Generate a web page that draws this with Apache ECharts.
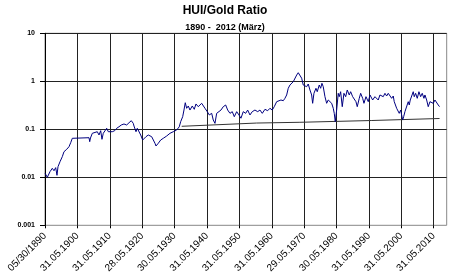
<!DOCTYPE html>
<html><head><meta charset="utf-8">
<script src="https://cdn.jsdelivr.net/npm/echarts@6/dist/echarts.min.js"></script>
<style>html,body{margin:0;padding:0;background:#fff}#c{width:450px;height:278px}</style>
</head><body><div id="c"></div>
<script>
const startYear = 1890.41;
const xTickLabels = ["05/30/1890","31.05.1900","31.05.1910","28.05.1920","30.05.1930","31.05.1940","31.05.1950","31.05.1960","29.05.1970","30.05.1980","31.05.1990","31.05.2000","31.05.2010"];
const yTickLabels = ["0.001","0.01","0.1","1","10"];
const ratioYears = [1890.45,1891.12,1891.95,1892.66,1893.19,1893.71,1894.11,1894.42,1895.04,1895.75,1896.27,1897.11,1897.82,1898.34,1898.84,1899.14,1904.00,1904.21,1904.45,1905.01,1905.53,1906.55,1907.08,1907.60,1908.00,1908.40,1908.93,1909.45,1909.95,1910.47,1911.18,1911.92,1912.54,1913.25,1913.96,1914.79,1915.63,1916.34,1917.05,1917.66,1917.88,1918.50,1918.90,1919.51,1919.95,1920.56,1920.97,1921.58,1922.29,1922.82,1923.34,1923.84,1924.36,1924.67,1925.38,1926.12,1926.92,1927.97,1928.99,1930.01,1931.06,1931.86,1932.29,1932.91,1933.31,1933.71,1934.14,1934.64,1935.16,1935.87,1936.49,1937.01,1937.72,1938.25,1938.77,1939.27,1939.79,1940.50,1941.12,1941.86,1942.35,1942.88,1943.40,1943.90,1944.73,1945.44,1946.18,1946.80,1947.51,1948.22,1948.84,1949.58,1950.29,1950.90,1951.61,1952.35,1952.97,1953.68,1954.39,1955.22,1956.06,1956.77,1957.48,1958.31,1959.14,1959.85,1960.56,1961.18,1961.92,1962.42,1963.25,1963.96,1964.48,1965.01,1965.50,1966.03,1966.55,1967.05,1967.57,1968.10,1968.59,1969.12,1969.64,1970.13,1970.66,1971.18,1971.67,1972.20,1972.72,1973.03,1973.43,1974.05,1974.45,1975.07,1975.50,1975.90,1976.30,1976.83,1977.35,1977.85,1978.37,1978.90,1979.39,1979.70,1980.01,1980.44,1980.93,1981.24,1981.67,1982.17,1982.69,1983.22,1983.71,1984.33,1984.76,1985.38,1985.87,1986.40,1986.80,1987.42,1987.85,1988.47,1988.87,1989.49,1990.20,1990.72,1991.55,1992.26,1993.28,1993.80,1994.33,1994.82,1995.35,1995.87,1996.37,1996.89,1997.42,1997.91,1998.22,1998.65,1998.96,1999.45,1999.76,2000.19,2000.50,2000.81,2001.12,2001.52,2002.05,2002.54,2002.85,2003.16,2003.59,2004.08,2004.39,2004.82,2005.32,2005.84,2006.37,2006.86,2007.38,2007.69,2008.22,2008.71,2009.24,2009.76,2010.26,2010.78,2011.30,2011.80,2012.20];
const ratioValues = [0.0121,0.0100,0.0131,0.0154,0.0137,0.0159,0.0110,0.0166,0.0211,0.0269,0.0341,0.0383,0.0434,0.0526,0.0649,0.0668,0.0668,0.0552,0.0659,0.0825,0.0866,0.0891,0.0761,0.0935,0.0619,0.0825,0.0891,0.105,0.0891,0.0967,0.0891,0.0935,0.105,0.113,0.123,0.129,0.123,0.137,0.151,0.133,0.117,0.0891,0.105,0.0967,0.0761,0.0598,0.0552,0.0701,0.0761,0.0825,0.0701,0.0649,0.0511,0.0449,0.0511,0.0598,0.0649,0.0725,0.0825,0.0891,0.0967,0.113,0.144,0.183,0.252,0.358,0.274,0.306,0.252,0.306,0.261,0.337,0.296,0.274,0.348,0.321,0.274,0.233,0.199,0.215,0.156,0.133,0.215,0.233,0.252,0.296,0.321,0.252,0.215,0.233,0.183,0.233,0.199,0.170,0.233,0.215,0.252,0.199,0.233,0.252,0.233,0.252,0.215,0.261,0.244,0.274,0.252,0.296,0.376,0.348,0.408,0.394,0.442,0.519,0.715,0.837,0.772,0.981,0.908,1.35,1.51,1.47,1.16,0.837,0.908,0.772,0.878,0.659,0.519,0.348,0.562,0.715,0.607,0.837,0.715,0.908,0.772,0.478,0.348,0.408,0.376,0.348,0.274,0.215,0.144,0.252,0.562,0.478,0.607,0.296,0.562,0.478,0.659,0.519,0.607,0.478,0.519,0.376,0.296,0.442,0.562,0.442,0.348,0.478,0.376,0.519,0.408,0.478,0.408,0.519,0.562,0.478,0.562,0.494,0.562,0.519,0.442,0.494,0.376,0.348,0.274,0.296,0.215,0.252,0.199,0.156,0.183,0.233,0.252,0.376,0.321,0.408,0.376,0.607,0.478,0.562,0.442,0.607,0.478,0.562,0.442,0.519,0.408,0.296,0.376,0.408,0.348,0.408,0.376,0.321,0.296];
const trendYears = [1932.6,1955.75,1969.1,1991.3,2012.2];
const trendValues = [0.1155,0.135,0.140,0.1525,0.168];

const FONT = 'Liberation Sans, Arial, sans-serif';
const ratioData = ratioYears.map((y, i) => [y - startYear, ratioValues[i]]);
const trendData = trendYears.map((y, i) => [y - startYear, trendValues[i]]);

const chart = echarts.init(document.getElementById('c'), null, {renderer: 'canvas'});
chart.setOption({
  animation: false,
  backgroundColor: '#fff',
  title: [
    {text: 'HUI/Gold Ratio', left: 'center', top: 0,
     textStyle: {fontFamily: FONT, fontSize: 12, fontWeight: 'bold', color: '#000'}},
    {text: '1890 -  2012 (März)', left: 'center', top: 18,
     textStyle: {fontFamily: FONT, fontSize: 9, fontWeight: 'bold', color: '#000'}}
  ],
  grid: {left: 45, right: 3.3, top: 33.3, bottom: 52.7, show: true, borderColor: '#888', borderWidth: 1, backgroundColor: 'transparent'},
  xAxis: {
    type: 'value', min: 0, max: 124, interval: 10,
    axisLine: {show: false},
    axisTick: {show: true, length: 3, lineStyle: {color: '#000'}},
    splitLine: {show: true, showMaxLine: false, lineStyle: {color: '#222', width: 1}},
    axisLabel: {
      rotate: 45, margin: 9, fontFamily: FONT, fontSize: 10, color: '#000',
      showMaxLabel: false,
      formatter: v => { const k = Math.round(v / 10); return Math.abs(v - k * 10) < 1e-6 && xTickLabels[k] ? xTickLabels[k] : ''; }
    }
  },
  yAxis: {
    type: 'log', logBase: 10, min: 0.001, max: 10,
    axisLine: {show: true, lineStyle: {color: '#000'}},
    axisTick: {show: true, length: 5, lineStyle: {color: '#000'}},
    splitLine: {show: true, showMinLine: false, lineStyle: {color: '#222', width: 1}},
    axisLabel: {
      margin: 10, fontFamily: FONT, fontSize: 7, fontWeight: 'bold', color: '#000',
      formatter: v => { const k = Math.round(Math.log10(v)) + 3; return yTickLabels[k] || ''; }
    }
  },
  series: [
    {type: 'line', data: trendData, showSymbol: false, lineStyle: {color: '#333', width: 1}, z: 2},
    {type: 'line', data: ratioData, showSymbol: false, lineStyle: {color: '#000080', width: 1}, z: 3}
  ]
});
</script></body></html>
